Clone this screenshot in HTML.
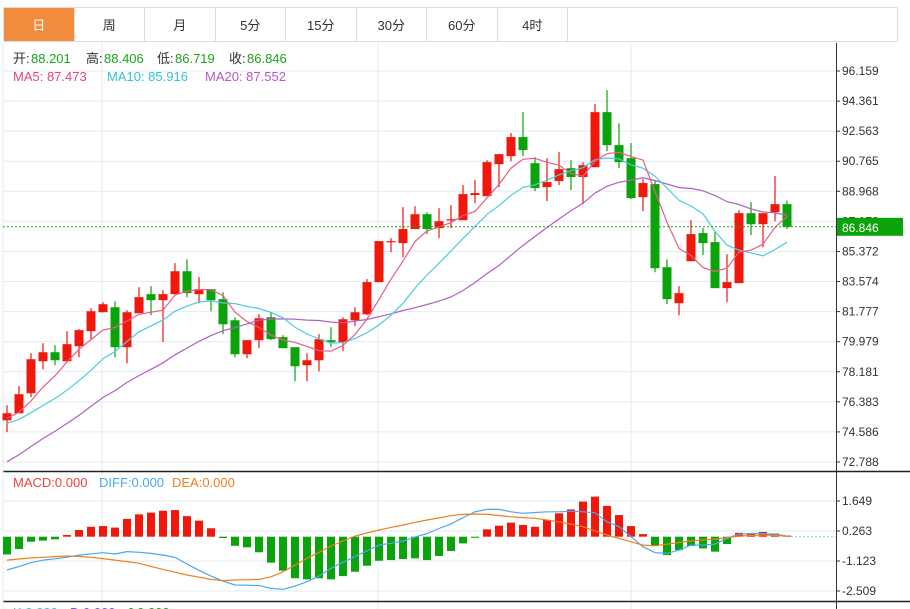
<!DOCTYPE html>
<html><head><meta charset="utf-8">
<style>
body{margin:0;background:#fff;font-family:"Liberation Sans","Noto Sans CJK SC",sans-serif;}
#wrap{position:relative;width:910px;height:609px;overflow:hidden;}
.tabs{position:absolute;left:3px;top:7px;width:895px;height:35px;border:1px solid #ddd;border-bottom:1px solid #ddd;display:flex;box-sizing:border-box;}
.tab{width:70.5px;height:100%;border-right:1px solid #ddd;box-sizing:border-box;display:flex;align-items:center;justify-content:center;font-size:13px;color:#333;}
.tab.on{background:#f38b3d;color:#fff;}
svg{position:absolute;left:0;top:0;}
</style></head><body>
<div id="wrap">
<div class="tabs">
<div class="tab on">日</div>
<div class="tab">周</div>
<div class="tab">月</div>
<div class="tab">5分</div>
<div class="tab">15分</div>
<div class="tab">30分</div>
<div class="tab">60分</div>
<div class="tab">4时</div>
</div>
<svg id="chart" width="910" height="609"></svg>
</div>
<script>
const opens=[75.28,75.70,76.90,78.81,79.35,78.81,79.71,80.61,81.74,82.04,79.65,81.68,82.82,82.46,82.82,84.19,82.82,83.12,82.52,81.26,79.23,80.07,81.44,80.25,79.65,78.57,78.87,80.07,79.95,81.26,81.62,83.54,85.93,85.87,86.71,87.60,86.77,87.24,87.24,88.74,88.68,90.59,91.07,92.21,90.65,89.22,89.58,90.35,89.82,90.41,93.70,91.73,90.95,88.62,89.40,84.43,82.28,84.79,86.47,85.93,83.18,83.48,87.66,87.00,87.72,88.201];
const closes=[75.70,76.84,78.93,79.35,78.87,79.83,80.67,81.80,82.22,79.65,81.74,82.64,82.46,82.82,84.19,82.88,83.12,82.46,81.02,79.23,80.07,81.38,80.13,79.59,78.51,78.87,80.13,79.95,81.32,81.74,83.54,85.99,85.99,86.71,87.60,86.71,87.18,87.30,88.80,88.86,90.71,91.19,92.21,91.43,89.16,89.52,90.29,89.82,90.53,93.70,91.73,90.71,88.56,89.46,84.37,82.52,82.88,86.41,85.87,83.18,83.54,87.66,87.00,87.66,88.20,86.846];
const highs=[76.18,77.32,79.29,79.89,79.77,80.61,80.73,81.98,82.34,82.40,81.86,83.24,83.30,83.06,84.67,84.91,83.84,83.12,82.94,81.44,80.07,81.62,81.74,80.37,79.65,79.29,80.43,80.85,81.44,82.04,83.72,85.99,86.17,88.02,88.08,87.72,87.96,88.14,89.34,89.64,90.83,91.19,92.45,93.70,91.01,90.95,91.31,90.83,90.71,94.18,95.02,93.04,91.85,89.70,89.64,84.91,83.30,87.24,86.77,86.53,85.21,87.84,88.32,87.66,89.88,88.406];
const lows=[74.57,75.70,76.66,78.33,78.57,78.81,79.05,80.13,81.74,79.05,78.69,81.68,81.56,79.95,82.82,82.64,82.28,81.80,80.43,79.05,78.99,79.59,80.07,79.59,77.62,77.62,78.21,79.65,79.41,80.91,81.56,83.54,85.33,85.03,86.71,86.41,86.17,86.77,87.24,88.26,88.68,89.22,90.77,91.07,88.98,88.38,89.34,89.04,88.20,90.41,91.37,90.35,88.50,87.78,84.13,82.22,81.56,84.79,85.15,83.18,82.34,83.48,86.35,85.63,87.18,86.719];
const priorCloses=[68.5,69.0,69.8,70.2,70.5,70.8,71.2,71.5,71.5,72.0,74.5,74.9,75.1,74.6,74.9,75.0,75.6,75.2,75.5];
const priceTicks=[96.159,94.361,92.563,90.765,88.968,87.170,85.372,83.574,81.777,79.979,78.181,76.383,74.586,72.788];
const macdHist=[-0.82,-0.57,-0.23,-0.18,-0.12,0.08,0.31,0.46,0.49,0.42,0.82,1.03,1.11,1.20,1.23,0.95,0.74,0.39,-0.06,-0.42,-0.49,-0.72,-1.20,-1.57,-1.92,-1.97,-1.92,-1.97,-1.82,-1.62,-1.34,-1.11,-1.08,-1.03,-1.00,-1.08,-0.89,-0.66,-0.31,-0.05,0.34,0.51,0.65,0.54,0.46,0.77,1.08,1.26,1.62,1.85,1.42,1.00,0.49,0.12,-0.43,-0.85,-0.62,-0.43,-0.54,-0.69,-0.34,0.18,0.15,0.22,0.15,0.05];
const diffVals=[-1.54,-1.38,-1.20,-1.08,-1.02,-0.94,-0.85,-0.79,-0.74,-0.80,-0.69,-0.72,-0.77,-0.85,-0.95,-1.26,-1.55,-1.82,-2.05,-2.23,-2.24,-2.26,-2.39,-2.43,-2.28,-2.08,-1.82,-1.46,-1.18,-0.92,-0.65,-0.39,-0.30,-0.20,-0.02,0.15,0.38,0.59,0.88,1.15,1.26,1.26,1.15,1.08,1.12,1.15,1.15,1.18,1.15,1.11,0.69,0.46,0.00,-0.46,-0.74,-0.77,-0.62,-0.39,-0.39,-0.34,-0.08,0.12,0.15,0.15,0.12,0.03];
const deaVals=[-1.08,-1.03,-0.98,-0.95,-0.92,-0.89,-0.91,-0.95,-1.01,-1.08,-1.15,-1.23,-1.37,-1.51,-1.64,-1.77,-1.87,-1.97,-2.03,-2.00,-1.99,-1.97,-1.85,-1.62,-1.31,-1.00,-0.72,-0.43,-0.20,0.03,0.17,0.31,0.43,0.54,0.66,0.77,0.87,0.97,1.03,1.05,1.03,0.98,0.92,0.88,0.85,0.77,0.69,0.58,0.46,0.27,0.08,-0.08,-0.23,-0.39,-0.42,-0.34,-0.27,-0.20,-0.15,-0.11,-0.04,0.03,0.06,0.08,0.06,0.03];
const macdTicks=[1.649,0.263,-1.123,-2.509];

const NS='http://www.w3.org/2000/svg';
const svg=document.getElementById('chart');
function mk(tag,attrs,parent){const e=document.createElementNS(NS,tag);for(const k in attrs)e.setAttribute(k,attrs[k]);(parent||svg).appendChild(e);return e;}
const xOf=i=>7+12*i;
const yP=p=>71+(96.159-p)*16.73;
const yM=v=>536.7-v*21.65;
const RED='#f0180b',GREEN='#0aa30a';

const grid=mk('g',{});


priceTicks.forEach(t=>{mk('line',{x1:3,x2:836,y1:yP(t),y2:yP(t),stroke:'#e4ebf2','stroke-width':1},grid);});
macdTicks.forEach(t=>{mk('line',{x1:3,x2:836,y1:yM(t),y2:yM(t),stroke:'#e4ebf2','stroke-width':1},grid);});
[102,378,631].forEach(x=>{mk('line',{x1:x,x2:x,y1:43,y2:609,stroke:'#e4ebf2','stroke-width':1},grid);});

mk('line',{x1:836.5,x2:836.5,y1:43,y2:609,stroke:'#333','stroke-width':1});
mk('line',{x1:3,x2:910,y1:471.5,y2:471.5,stroke:'#222','stroke-width':1.5});
mk('line',{x1:3,x2:910,y1:601.5,y2:601.5,stroke:'#222','stroke-width':1.5});
mk('line',{x1:3,x2:3,y1:43,y2:609,stroke:'#e4ebf2','stroke-width':1});

priceTicks.forEach(t=>{
  const y=yP(t);
  mk('line',{x1:836,x2:840,y1:y,y2:y,stroke:'#333'});
  const tx=mk('text',{x:842,y:y+4,'font-size':12,fill:'#333'});
  tx.textContent=t.toFixed(3);
  
  
});
macdTicks.forEach(t=>{
  const y=yM(t);
  mk('line',{x1:836,x2:840,y1:y,y2:y,stroke:'#333'});
  const tx=mk('text',{x:842,y:y+4,'font-size':12,fill:'#333'});
  tx.textContent=t.toFixed(3);
  
  
});

const cg=mk('g',{});


for(let i=0;i<opens.length;i++){
  const up=closes[i]>=opens[i];const col=up?RED:GREEN;const x=xOf(i);
  const g=mk('g',{},cg);
  
  
  mk('line',{x1:x,x2:x,y1:yP(highs[i]),y2:yP(lows[i]),stroke:col,'stroke-width':1.2},g);
  const top=yP(Math.max(opens[i],closes[i])),bot=yP(Math.min(opens[i],closes[i]));
  mk('rect',{x:x-4.5,y:top,width:9,height:Math.max(1.2,bot-top),fill:col},g);
}

const all=priorCloses.concat(closes);
function ma(n){const out=[];for(let i=0;i<closes.length;i++){const j=i+priorCloses.length;let s=0;for(let k=j-n+1;k<=j;k++)s+=all[k];out.push(s/n);}return out;}
function linePath(vals,yf){return vals.map((v,i)=>(i?'L':'M')+xOf(i)+' '+yf(v).toFixed(1)).join(' ');}
[[20,'#b55dc8','ma20-line'],[10,'#4ccbe0','ma10-line'],[5,'#ec5b88','ma5-line']].forEach(([n,c,nm])=>{
  const p=mk('path',{d:linePath(ma(n),yP),fill:'none',stroke:c,'stroke-width':1.2});
  
  
});

const last=closes[closes.length-1];
const cl=mk('line',{x1:3,x2:836,y1:yP(last),y2:yP(last),stroke:'#1a9a1a','stroke-dasharray':'2,2','stroke-width':1});


const cb=mk('rect',{x:837,y:yP(last)-9,width:66,height:18,fill:GREEN});


const ct=mk('text',{x:842,y:yP(last)+5,'font-size':12,fill:'#fff'});
ct.textContent=last.toFixed(3);

const mg=mk('g',{});


macdHist.forEach((v,i)=>{
  const y0=yM(0),y1=yM(v);
  const r=mk('rect',{x:xOf(i)-4,y:Math.min(y0,y1),width:8,height:Math.max(1,Math.abs(y1-y0)),fill:v>=0?RED:GREEN},mg);
  
  
});
mk('line',{x1:xOf(macdHist.length-1),x2:836,y1:yM(0),y2:yM(0),stroke:'#7fd3e6','stroke-dasharray':'2,2'});
const dp=mk('path',{d:linePath(diffVals,yM),fill:'none',stroke:'#4aa8f0','stroke-width':1.2});


const ep=mk('path',{d:linePath(deaVals,yM),fill:'none',stroke:'#f07f1e','stroke-width':1.2});



function legend(y,items,name){
  const g=mk('g',{});
  
  
  items.forEach(([x,s,c])=>{const t=mk('text',{x:x,y:y,'font-size':13,fill:c},g);t.textContent=s;});
}
legend(63,[[13,'开:','#333'],[31,'88.201','#1aa31a'],[86,'高:','#333'],[104,'88.406','#1aa31a'],[157,'低:','#333'],[175,'86.719','#1aa31a'],[229,'收:','#333'],[247,'86.846','#1aa31a']],'ohlc-legend');
legend(81,[[13,'MA5: 87.473','#e9457a'],[107,'MA10: 85.916','#36c3d6'],[205,'MA20: 87.552','#b757c7']],'ma-legend');
legend(487,[[13,'MACD:0.000','#f0403a'],[99,'DIFF:0.000','#4aa8f0'],[172,'DEA:0.000','#f07f1e']],'macd-legend');
legend(617,[[13,'K:0.000','#36c3d6'],[70,'D:0.000','#8a4fd6'],[127,'J:0.000','#1aa31a']],'kdj-legend');
</script>
</body></html>
